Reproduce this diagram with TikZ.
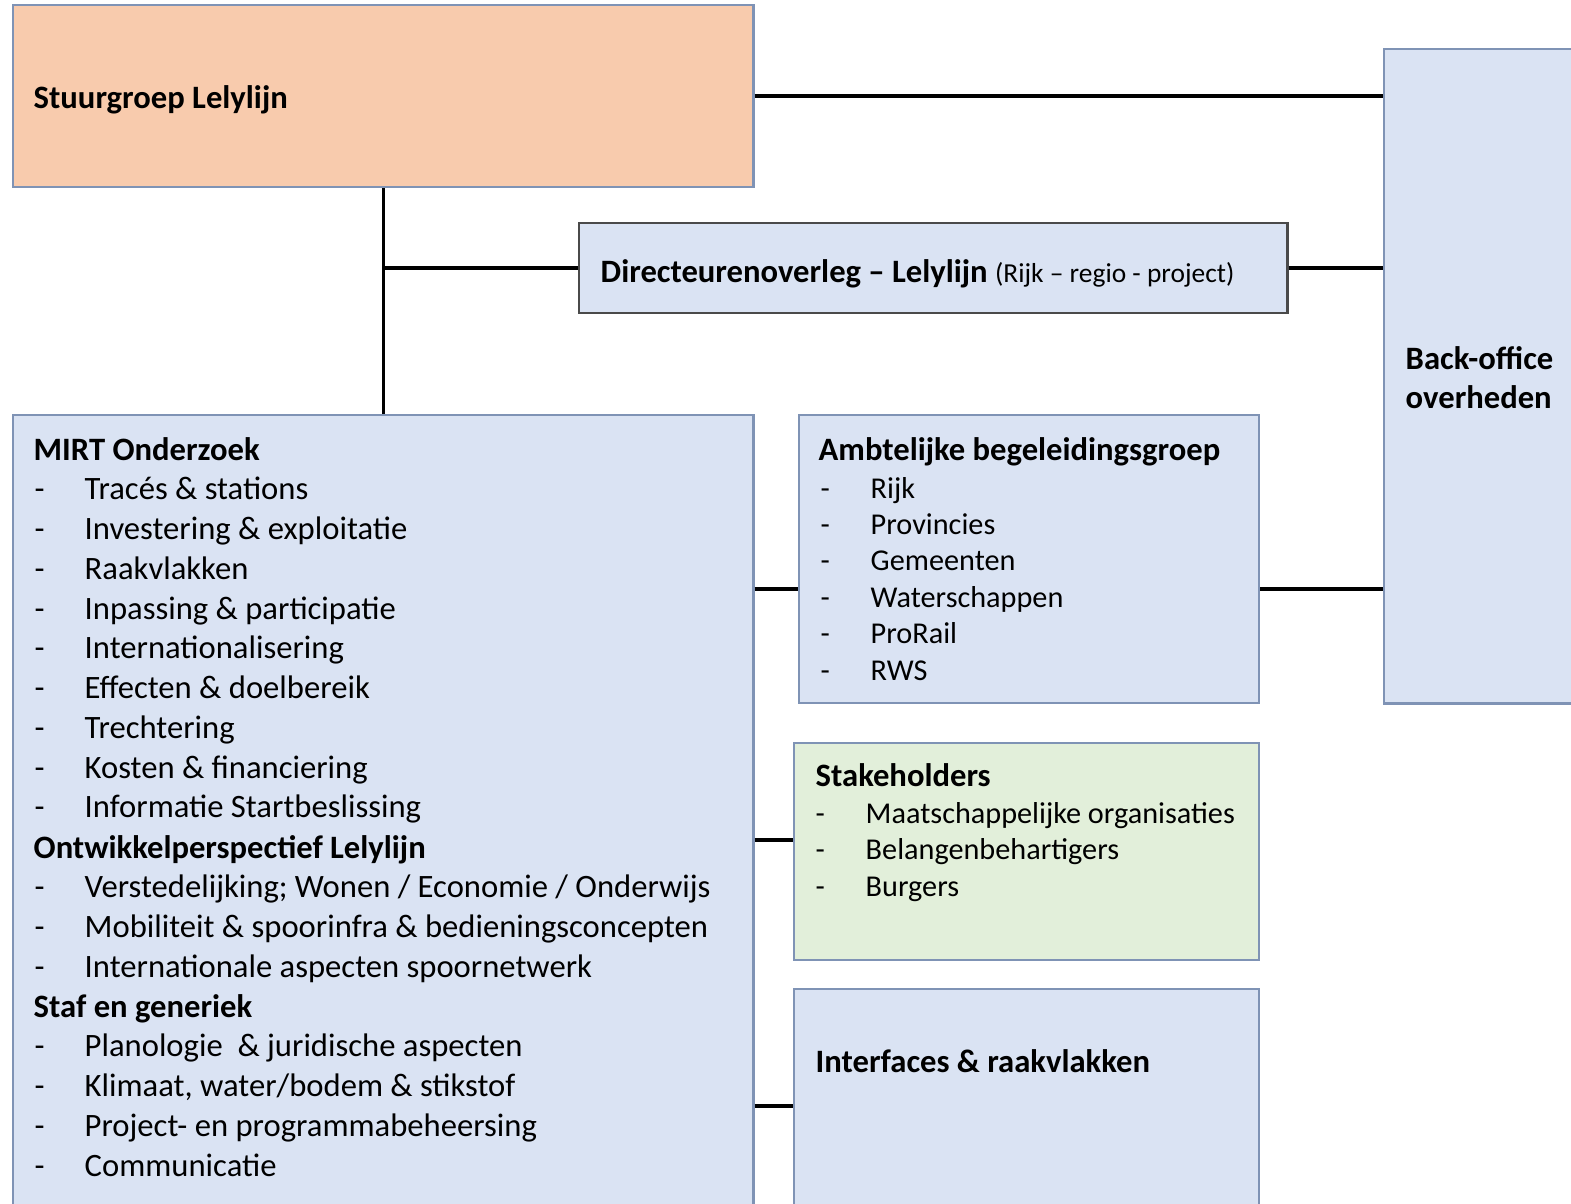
\documentclass[tikz,border=0pt]{standalone}
\usepackage{fontspec}
\setmainfont{Carlito}

\definecolor{peach}{HTML}{F8CBAD}
\definecolor{paleblue}{HTML}{DAE3F3}
\definecolor{palegreen}{HTML}{E2EFDA}
\definecolor{boxline}{HTML}{7F93B5}
\definecolor{darkline}{HTML}{4A4A4A}

\tikzset{
  box/.style={draw=boxline, line width=0.6pt, anchor=north west, inner sep=0pt},
  row/.style={anchor=base west, inner sep=0pt},
  smallrow/.style={row, font=\fontsize{8.6}{10.4}\selectfont},
  link/.style={line width=1pt, black},
}

\begin{document}
\begin{tikzpicture}[x=0.01cm, y=-0.01cm, font=\fontsize{9.28}{11.3}\selectfont]
\useasboundingbox (0,0) rectangle (1571,1203);
\clip (0,0) rectangle (1571,1203);

% boxes
\node[box, fill=peach, minimum width=7.40cm, minimum height=1.82cm] (stuur) at (12,4) {};
\node[box, fill=paleblue, minimum width=2.30cm, minimum height=6.54cm] (back) at (1383,48) {};
\node[box, draw=darkline, fill=paleblue, minimum width=7.08cm, minimum height=0.90cm] (direc) at (578,222) {};
\node[box, fill=paleblue, minimum width=7.40cm, minimum height=8.20cm] (mirt) at (12,414) {};
\node[box, fill=paleblue, minimum width=4.60cm, minimum height=2.88cm] (ambt) at (798,414) {};
\node[box, fill=palegreen, minimum width=4.65cm, minimum height=2.17cm] (stake) at (793,742) {};
\node[box, fill=paleblue, minimum width=4.65cm, minimum height=2.60cm] (inter) at (793,988) {};

% connectors
\draw[link] (stuur.east) -- (stuur.east -| back.west);
\draw[link] (stuur.south) -- (mirt.north);
\draw[link] (direc.west -| stuur.south) -- (direc.west);
\draw[link] (direc.east) -- (direc.east -| back.west);
\draw[link] (mirt.east |- 0,589) -- (ambt.west |- 0,589);
\draw[link] (ambt.east |- 0,589) -- (back.west |- 0,589);
\draw[link] (mirt.east |- 0,840) -- (stake.west |- 0,840);
\draw[link] (mirt.east |- 0,1106) -- (inter.west |- 0,1106);

% texts
\node[row] (stuurtxt) at (33,108) {\bfseries Stuurgroep Lelylijn};
\node[row] (directxt) at (600,282) {\bfseries Directeurenoverleg -- Lelylijn \normalfont\fontsize{7.8}{9}\selectfont(Rijk -- regio - project)};
\node[row] (backtxt1) at (1405,369) {\bfseries Back-office};
\node[row] (backtxt2) at (1405,408) {\bfseries overheden};

\node[row] (mirtkop1) at (33,460) {\bfseries MIRT Onderzoek};
\foreach \txt [count=\i] in {{Tracés \& stations}, {Investering \& exploitatie}, {Raakvlakken},
    {Inpassing \& participatie}, {Internationalisering}, {Effecten \& doelbereik},
    {Trechtering}, {Kosten \& financiering}, {Informatie Startbeslissing}}
  \node[row] (onderzoek\i) at (34,{460+39.75*\i}) {\makebox[0.5cm][l]{-}\txt};
\node[row] (mirtkop2) at (33,858) {\bfseries Ontwikkelperspectief Lelylijn};
\foreach \txt [count=\i] in {{Verstedelijking; Wonen / Economie / Onderwijs},
    {Mobiliteit \& spoorinfra \& bedieningsconcepten}, {Internationale aspecten spoornetwerk}}
  \node[row] (perspectief\i) at (34,{858+39.75*\i}) {\makebox[0.5cm][l]{-}\txt};
\node[row] (mirtkop3) at (33,1017) {\bfseries Staf en generiek};
\foreach \txt [count=\i] in {{Planologie~ \& juridische aspecten}, {Klimaat, water/bodem \& stikstof},
    {Project- en programmabeheersing}, {Communicatie}}
  \node[row] (staf\i) at (34,{1017+39.75*\i}) {\makebox[0.5cm][l]{-}\txt};

\node[row] (ambtkop) at (818,460) {\bfseries Ambtelijke begeleidingsgroep};
\foreach \txt [count=\i] in {Rijk, Provincies, Gemeenten, Waterschappen, ProRail, RWS}
  \node[smallrow] (ambt\i) at (820,{461.6+36.4*\i}) {\makebox[0.5cm][l]{-}\txt};

\node[row] (stakekop) at (815,786) {\bfseries Stakeholders};
\foreach \txt [count=\i] in {{Maatschappelijke organisaties}, Belangenbehartigers, Burgers}
  \node[smallrow] (stake\i) at (815,{786.5+36.5*\i}) {\makebox[0.5cm][l]{-}\txt};

\node[row] (intertxt) at (815,1072) {\bfseries Interfaces \& raakvlakken};
\end{tikzpicture}
\end{document}
